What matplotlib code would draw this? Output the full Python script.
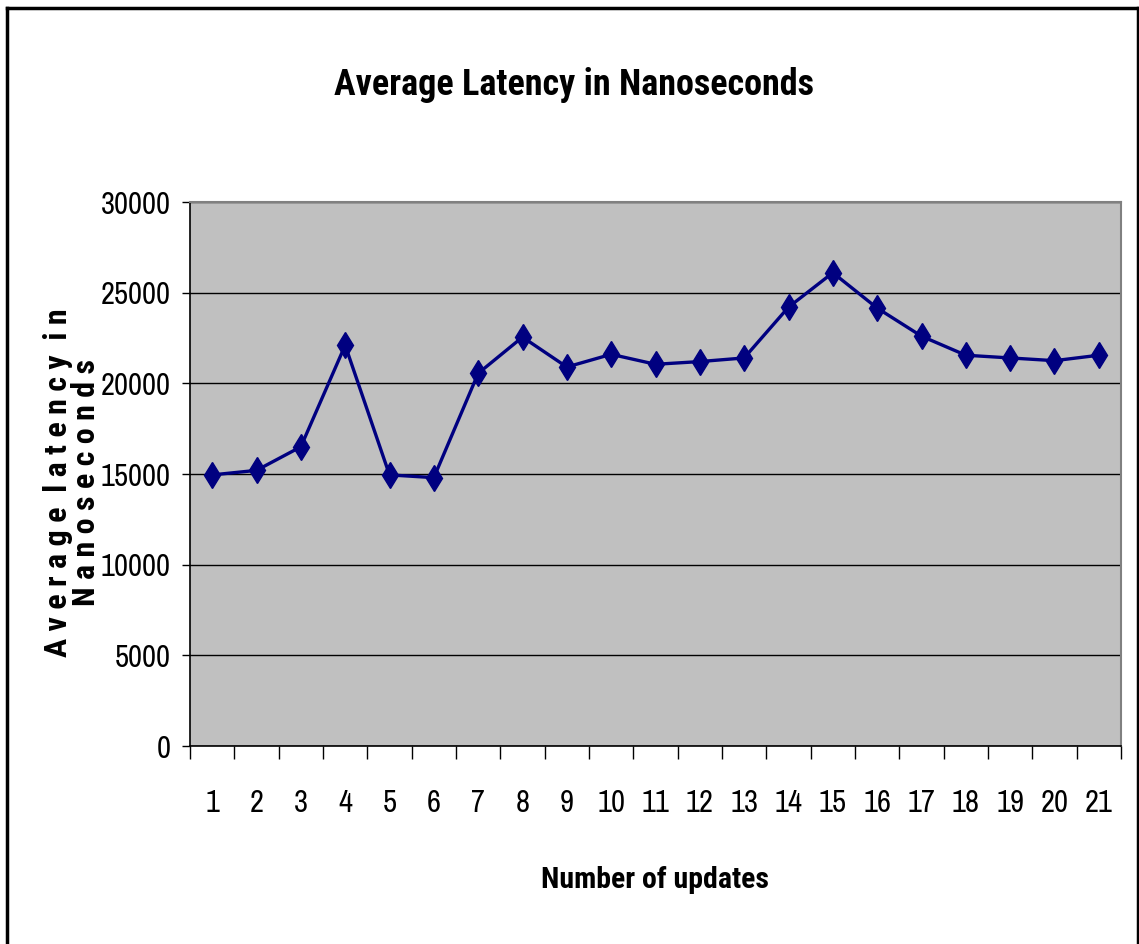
import matplotlib
matplotlib.use("Agg")
import matplotlib.pyplot as plt
from matplotlib.ticker import FixedLocator, NullFormatter
from matplotlib.lines import Line2D

# --- data -----------------------------------------------------------
updates = list(range(1, 22))
latency_ns = [14950, 15200, 16500, 22100, 14950, 14800, 20550, 22550, 20900,
              21600, 21050, 21200, 21400, 24200, 26100, 24150, 22600, 21550,
              21400, 21250, 21550]
y_ticks = [0, 5000, 10000, 15000, 20000, 25000, 30000]

title = "Average Latency in Nanoseconds"
x_label = "Number of updates"
y_label = ("A v e r a g e  l a t e n c y  i n\n"
           "N a n o s e c o n d s")

# Excel-style narrow sans (Arial Narrow look-alike); the bold texts need a
# narrow family that actually ships a bold face
FONT = ["Archivo Narrow", "Roboto Condensed", "DejaVu Sans"]
FONT_BOLD = ["Roboto Condensed", "PT Sans Narrow", "DejaVu Sans"]
LINE = "#000080"
PLOT_BG = "#C0C0C0"

plt.rcParams["font.family"] = FONT

fig = plt.figure(figsize=(11.39, 9.44), dpi=100)
W, H = 1139, 944

# plot area in pixels: x 190..1121, y 202..746 (from top)
ax = fig.add_axes([190 / W, 1 - 746 / H, (1121 - 190) / W, (746 - 202) / H])
ax.set_facecolor(PLOT_BG)

ax.plot(updates, latency_ns, color=LINE, lw=2.4, marker="d", ms=13,
        markeredgecolor=LINE, markerfacecolor=LINE, zorder=3, clip_on=False)

ax.set_xlim(0.5, 21.5)
ax.set_ylim(0, 30000)

ax.set_yticks(y_ticks)
ax.set_yticklabels([str(v) for v in y_ticks])
ax.yaxis.grid(True, color="black", lw=1.0)
ax.set_axisbelow(True)

# category labels centred, tick marks on the category boundaries
ax.set_xticks(updates)
ax.set_xticklabels([str(u) for u in updates])
ax.xaxis.set_minor_locator(FixedLocator([u + 0.5 for u in range(0, 22)]))
ax.xaxis.set_minor_formatter(NullFormatter())
ax.tick_params(axis="x", which="major", length=0, pad=31, labelsize=22)
ax.tick_params(axis="x", which="minor", length=9, width=1.0, direction="out")
ax.tick_params(axis="y", which="major", length=6, width=1.0, direction="out",
               pad=8, labelsize=22)

for side in ("top", "right"):
    ax.spines[side].set_color("#808080")
    ax.spines[side].set_linewidth(1.5)
for side in ("left", "bottom"):
    ax.spines[side].set_color("black")
    ax.spines[side].set_linewidth(1.2)

# titles
fig.text(574 / W, 1 - 95 / H, title, ha="center", va="baseline",
         fontsize=26, fontweight="bold", family=FONT_BOLD)
fig.text(655 / W, 1 - 888 / H, x_label, ha="center", va="baseline",
         fontsize=21.5, fontweight="bold", family=FONT_BOLD)
fig.text(72 / W, 1 - 483 / H, y_label, ha="center", va="center",
         rotation=90, fontsize=23, fontweight="bold", linespacing=0.92,
         multialignment="center", family=FONT_BOLD)

# chart frame (open at the bottom, like the cropped reference)
for xs, ys in (([7, 7], [944, 8]), ([7, 1138], [8, 8]), ([1138, 1138], [8, 944])):
    fig.add_artist(Line2D([x / W for x in xs], [1 - y / H for y in ys],
                          color="black", lw=2.5, transform=fig.transFigure))

fig.savefig("out.png", dpi=100)
